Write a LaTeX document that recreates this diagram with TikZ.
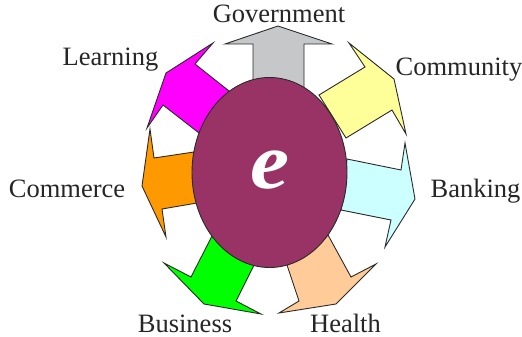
\documentclass[tikz,border=0pt]{standalone}
\usepackage{fontspec}
\usetikzlibrary{shapes.geometric}
\setmainfont{Liberation Serif}
\definecolor{hubcol}{HTML}{993366}
\definecolor{lineC}{HTML}{2A2A2A}
\definecolor{greyC}{HTML}{C6C7C9}
\definecolor{magC}{HTML}{FF00FF}
\definecolor{yelC}{HTML}{FFFF99}
\definecolor{cyaC}{HTML}{CCFFFF}
\definecolor{oraC}{HTML}{FF9900}
\definecolor{greC}{HTML}{00FF00}
\definecolor{peaC}{HTML}{FFCC99}
\tikzset{
  arrowshape/.style={draw=lineC,line width=0.9pt,miter limit=10},
  lab/.style={font=\fontsize{26.5pt}{30pt}\selectfont,text=black!85,inner sep=0pt,anchor=base}
}
\begin{document}
\begin{tikzpicture}[x=1pt,y=-1pt]
\useasboundingbox (0,0) rectangle (522,337);
\fill[white] (0,0) rectangle (522,337);
\draw[arrowshape,fill=greyC] (253,92) -- (253,44) -- (225,44) -- (278,26) -- (332,44) -- (304,44) -- (304,92) -- cycle;
\draw[arrowshape,fill=magC] (229,91) -- (195,64) -- (213,43) -- (166,73) -- (147,128) -- (163,105) -- (199,133) -- cycle;
\draw[arrowshape,fill=yelC] (319,95) -- (365,67) -- (349,43) -- (394,79) -- (406,134) -- (392,110) -- (346,138) -- cycle;
\draw[arrowshape,fill=cyaC] (347,159) -- (401,170) -- (405,143) -- (415,199) -- (385,247) -- (391,220) -- (341,210) -- cycle;
\draw[arrowshape,fill=oraC] (194,152) -- (154,158) -- (150,129) -- (142,186) -- (166,237) -- (162,209) -- (197,203) -- cycle;
\draw[arrowshape,fill=greC] (212,236) -- (191,277) -- (164,263) -- (204,304) -- (261,314) -- (236,301) -- (254,265) -- cycle;
\draw[arrowshape,fill=peaC] (328,235) -- (351,277) -- (376,264) -- (336,304) -- (279,313) -- (299,301) -- (287,265) -- cycle;
\node[ellipse,draw=lineC,line width=0.9pt,fill=hubcol,minimum width=155pt,minimum height=190pt,inner sep=0pt] (hub) at (269.5,172.5) {};
\node[inner sep=0pt,text=white,xscale=1.1,font=\fontsize{80pt}{80pt}\selectfont\bfseries\itshape] (e) at (270,170) {e};
\node[lab] (government) at (279,23) {Government};
\node[lab] (learning) at (110.5,66) {Learning};
\node[lab] (community) at (459,75) {Community};
\node[lab] (banking) at (475.5,197) {Banking};
\node[lab] (commerce) at (67,197) {Commerce};
\node[lab] (business) at (185,332) {Business};
\node[lab] (health) at (345.5,332) {Health};
\end{tikzpicture}
\end{document}
